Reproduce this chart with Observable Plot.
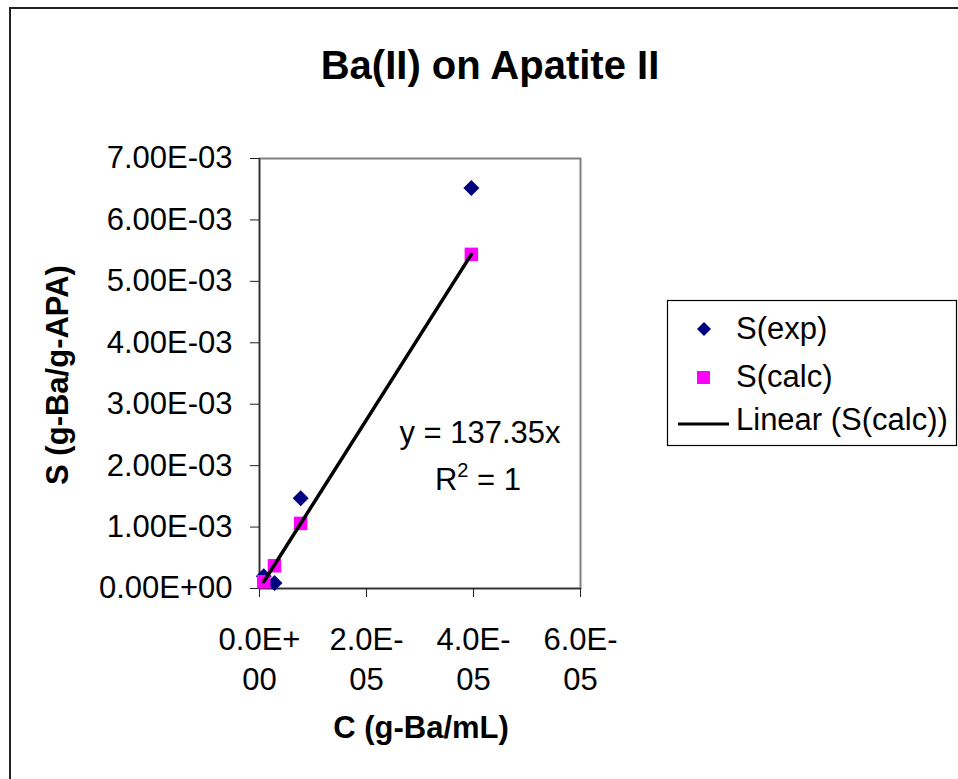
<!DOCTYPE html>
<html>
<head>
<meta charset="utf-8">
<script src="https://cdn.jsdelivr.net/npm/d3@7"></script>
<script src="https://cdn.jsdelivr.net/npm/@observablehq/plot@0.6"></script>
<style>
  html, body { margin: 0; padding: 0; background: #fff; overflow: hidden; }
  #chart { position: relative; width: 958px; height: 779px; overflow: hidden; background: #fff; }
  #chart > svg { position: absolute; left: 0; top: 0; }
  #frame { position: absolute; left: 9px; top: 7px; width: 2000px; height: 2000px;
           border-left: 2px solid #222; border-top: 2px solid #222; box-sizing: border-box; }
</style>
</head>
<body>
<div id="chart"><div id="frame"></div></div>
<script>
// ---- data ----
const concentration = [0.08e-5, 0.28e-5, 0.77e-5, 3.96e-5];   // C (g-Ba/mL)
const sExp  = [0.20e-3, 0.09e-3, 1.47e-3, 6.52e-3];           // S(exp)
const sCalc = [0.11e-3, 0.37e-3, 1.06e-3, 5.44e-3];           // S(calc)
const slope = 137.35;                                        // Linear (S(calc)) fit, y = 137.35x
const xTicks = [0, 2e-5, 4e-5, 6e-5];
const xTickLabels = ["0.0E+\n00", "2.0E-\n05", "4.0E-\n05", "6.0E-\n05"];
const yTicks = [0, 1e-3, 2e-3, 3e-3, 4e-3, 5e-3, 6e-3, 7e-3];
const yTickLabels = ["0.00E+00", "1.00E-03", "2.00E-03", "3.00E-03", "4.00E-03", "5.00E-03", "6.00E-03", "7.00E-03"];
const titleText = "Ba(II) on Apatite II";
const xTitle = "C (g-Ba/mL)";
const yTitle = "S (g-Ba/g-APA)";
const seriesNames = ["S(exp)", "S(calc)", "Linear (S(calc))"];

const expData = concentration.map((c, i) => ({c, s: sExp[i]}));
const calcData = concentration.map((c, i) => ({c, s: sCalc[i]}));
const cMin = d3.min(concentration), cMax = d3.max(concentration);
const trend = [cMin, cMax].map(c => ({c, s: slope * c}));

const FONT = "'Liberation Sans', Arial, sans-serif";
const rDiamond = 7.2, rSquare = 7.6;

const plot = Plot.plot({
  width: 958,
  height: 779,
  marginLeft: 259,
  marginRight: 378,
  marginTop: 158,
  marginBottom: 191,
  style: {fontFamily: FONT, fontSize: "31px", color: "#000", background: "transparent", overflow: "visible"},
  x: {domain: [0, 6e-5]},
  y: {domain: [0, 7e-3]},
  marks: [
    Plot.frame({stroke: "#808080", strokeWidth: 2}),
    Plot.ruleX([0], {stroke: "#333", strokeWidth: 1.5}),
    Plot.ruleY([0], {stroke: "#333", strokeWidth: 1.5}),
    Plot.axisY({ticks: yTicks, tickFormat: d => yTickLabels[yTicks.indexOf(d)], tickSize: 9, tickPadding: 18, stroke: "#222", label: null}),
    Plot.axisX({ticks: xTicks, tickFormat: d => xTickLabels[xTicks.indexOf(d)], tickSize: 9, tickPadding: 24, lineHeight: 1.29, stroke: "#222", label: null}),
    Plot.dot(expData, {x: "c", y: "s", symbol: "diamond2", r: rDiamond, fill: "#000080", stroke: "none"}),
    Plot.dot(calcData, {x: "c", y: "s", symbol: "square", r: rSquare, fill: "#FF00FF", stroke: "none"}),
    Plot.line(trend, {x: "c", y: "s", stroke: "#000", strokeWidth: 3.5})
  ]
});
document.getElementById("chart").appendChild(plot);

// ---- overlay: titles, equation, legend ----
const ov = d3.select("#chart").append("svg")
  .attr("width", 958).attr("height", 779)
  .style("font-family", FONT)
  .style("position", "absolute").style("left", 0).style("top", 0);

ov.append("text").attr("x", 490).attr("y", 79).attr("text-anchor", "middle")
  .attr("font-size", 40).attr("font-weight", "bold").text(titleText);
ov.append("text").attr("x", 421).attr("y", 738).attr("text-anchor", "middle")
  .attr("font-size", 31).attr("font-weight", "bold").text(xTitle);
ov.append("text").attr("transform", "translate(68,375) rotate(-90)").attr("text-anchor", "middle")
  .attr("font-size", 31).attr("font-weight", "bold").text(yTitle);

ov.append("text").attr("x", 480).attr("y", 443).attr("text-anchor", "middle")
  .attr("font-size", 31).text("y = " + slope + "x");
const r2 = ov.append("text").attr("x", 478).attr("y", 490).attr("text-anchor", "middle").attr("font-size", 31);
r2.append("tspan").text("R");
r2.append("tspan").attr("font-size", 20).attr("dy", -13).text("2");
r2.append("tspan").attr("dy", 13).text(" = 1");

const lg = ov.append("g");
lg.append("rect").attr("x", 667.5).attr("y", 300.5).attr("width", 289).attr("height", 145)
  .attr("fill", "#fff").attr("stroke", "#000").attr("stroke-width", 1.2);
lg.append("path").attr("transform", "translate(704,329)")
  .attr("d", d3.symbol(d3.symbolDiamond2, Math.PI * 6.3 * 6.3)()).attr("fill", "#000080");
lg.append("rect").attr("x", 697).attr("y", 371).attr("width", 13).attr("height", 13).attr("fill", "#FF00FF");
lg.append("line").attr("x1", 678).attr("x2", 729).attr("y1", 424).attr("y2", 424)
  .attr("stroke", "#000").attr("stroke-width", 3);
const ly = [339, 387, 430];
seriesNames.forEach((n, i) => {
  lg.append("text").attr("x", 736).attr("y", ly[i]).attr("font-size", 31).text(n);
});
</script>
</body>
</html>
